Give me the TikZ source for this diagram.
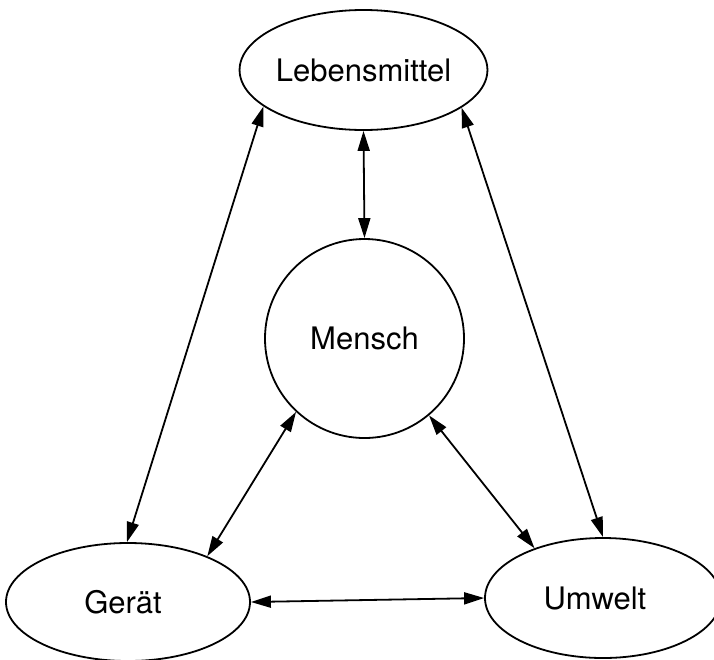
\documentclass[tikz,border=0pt]{standalone}
\usepackage{fontspec}
\setmainfont{TeX Gyre Heros}
\usetikzlibrary{arrows.meta,shapes.geometric}
\begin{document}
\begin{tikzpicture}[x=1pt,y=-1pt,
  every node/.style={font=\fontsize{31}{36}\selectfont},
  oval/.style={draw,line width=1.8pt,ellipse,inner sep=0pt},
  tip/.style={Triangle[length=20pt,width=12pt]},
  link/.style={line width=1.8pt,{Triangle[length=20pt,width=12pt]}-{Triangle[length=20pt,width=12pt]}}
]
\useasboundingbox (0,0) rectangle (714,659);

% the four elements
\node[oval,minimum width=237pt,minimum height=120pt] (L) at (363.5,70) {Lebensmittel};
\node[draw,line width=1.8pt,circle,inner sep=0pt,minimum size=199pt] (M) at (364.5,338.5) {\raisebox{-5pt}{Mensch}};
\node[oval,minimum width=244pt,minimum height=118pt] (G) at (128,602) {\hspace*{-10pt}\raisebox{-4pt}{Gerät}};
\node[oval,minimum width=236pt,minimum height=120pt] (U) at (603,598) {\hspace*{-16pt}\raisebox{-3pt}{Umwelt}};

% mutual relations
\draw[link] (L.270) -- (M.90);
\draw[link] (L.200) -- (G.91);
\draw[link] (L.339.7) -- (U.90);
\draw[link] (M.227.8) -- (G.30.8);
\draw[link] (M.310.6) -- (U.144.8);
\draw[link] (G.0) -- (U.180);
\end{tikzpicture}
\end{document}
